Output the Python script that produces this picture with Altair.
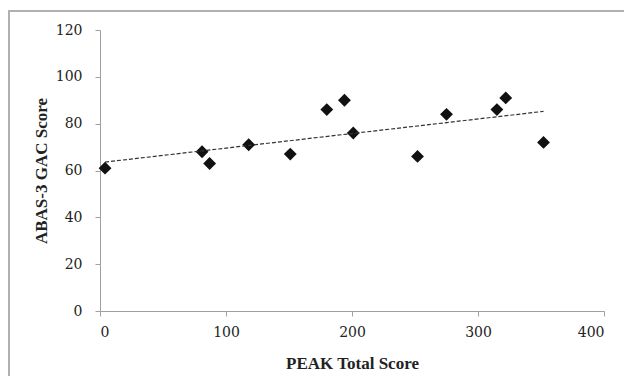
import altair as alt
import pandas as pd

peak_total = [4, 81, 87, 118, 151, 180, 194, 201, 252, 275, 315, 322, 352]
abas_gac = [61, 68, 63, 71, 67, 86, 90, 76, 66, 84, 86, 91, 72]

x_ticks = [0, 100, 200, 300, 400]
y_ticks = [0, 20, 40, 60, 80, 100, 120]

df = pd.DataFrame({"peak": peak_total, "gac": abas_gac})

W, H = 504, 281
LABEL_FONT = "DejaVu Serif"
TITLE_FONT = "Liberation Serif"

x_enc = alt.X(
    "peak:Q",
    scale=alt.Scale(domain=[0, 400], nice=False, zero=False),
    axis=alt.Axis(
        values=x_ticks, title="PEAK Total Score", grid=False,
        domainColor="#a0a0a0", tickColor="#a0a0a0", tickSize=5,
        labelFont=LABEL_FONT, labelFontSize=14, labelColor="#222222", labelPadding=9,
        titleFont=TITLE_FONT, titleFontSize=17, titleFontWeight="bold", titleColor="#222222",
        titleY=52, titleBaseline="middle",
    ),
)
y_enc = alt.Y(
    "gac:Q",
    scale=alt.Scale(domain=[0, 120], nice=False, zero=False),
    axis=alt.Axis(
        values=y_ticks, title="ABAS-3 GAC Score", grid=False,
        domainColor="#a0a0a0", tickColor="#a0a0a0", tickSize=5,
        labelFont=LABEL_FONT, labelFontSize=14, labelColor="#222222", labelPadding=13,
        titleFont=TITLE_FONT, titleFontSize=17, titleFontWeight="bold", titleColor="#222222",
        titleAngle=270, titleX=-59, titleY=H / 2, titleAlign="center", titleBaseline="middle",
    ),
)

points = alt.Chart(df).mark_point(
    shape="diamond", filled=True, size=165, color="#111111", opacity=1
).encode(x=x_enc, y=y_enc)

trend = alt.Chart(df).transform_regression("peak", "gac").mark_line(
    color="#333333", strokeWidth=1.2, strokeDash=[4, 2]
).encode(x="peak:Q", y="gac:Q")

border = alt.Chart(pd.DataFrame({"a": [0]})).mark_rect(
    fill=None, stroke="#b0b0b0", strokeWidth=2
).encode(
    x=alt.value(-91), x2=alt.value(W + 40),
    y=alt.value(-19), y2=alt.value(H + 100),
)

chart = alt.layer(border, points, trend).properties(
    width=W, height=H,
    autosize="none",
    padding={"left": 92, "top": 22, "right": 20, "bottom": 65},
    background="white",
).configure_view(stroke=None)

chart.save("out.html", embed_options={"renderer": "svg", "actions": False})
